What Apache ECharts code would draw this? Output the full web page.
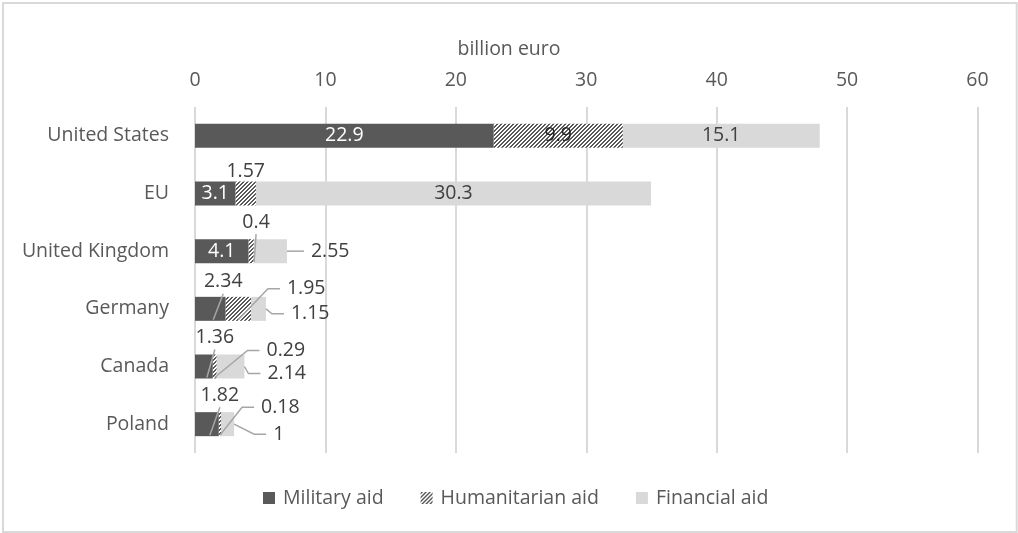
<!DOCTYPE html>
<html>
<head>
<meta charset="utf-8">
<title>Aid to Ukraine by donor</title>
<script src="https://cdn.jsdelivr.net/npm/echarts@6/dist/echarts.min.js"></script>
<style>
  html, body { margin: 0; padding: 0; background: #ffffff; }
  #chart { width: 1018px; height: 533px; }
</style>
</head>
<body>
<div id="chart"></div>
<script>
// ---- data -------------------------------------------------------------
const categories = ['United States', 'EU', 'United Kingdom', 'Germany', 'Canada', 'Poland'];
const militaryAid = [22.9, 3.1, 4.1, 2.34, 1.36, 1.82];
const humanitarianAid = [9.9, 1.57, 0.4, 1.95, 0.29, 0.18];
const financialAid = [15.1, 30.3, 2.55, 1.15, 2.14, 1];
const seriesNames = ['Military aid', 'Humanitarian aid', 'Financial aid'];
const axisMin = 0;
const axisMax = 60;
const axisStep = 10;
const axisTitle = 'billion euro';

// ---- label placement for narrow segments -----------------------------
// 'inside' keeps the value on the bar, 'above' lifts it over the segment,
// 'right' pushes it past the segment's end; offsets are in pixels.
const placement = {
  military: ['inside', 'inside', 'inside',
    { at: 'above', dx: 13, dy: -15 }, { at: 'above', dx: 11, dy: -17 }, { at: 'above', dx: 13, dy: -17 }],
  humanitarian: ['inside', { at: 'above', dx: 0, dy: -10, line: false }, { at: 'above', dx: 5, dy: -17 },
    { at: 'right', dx: 36, dy: -20 }, { at: 'right', dx: 50, dy: -16 }, { at: 'right', dx: 40, dy: -17 }],
  financial: ['inside', 'inside', { at: 'right', dx: 24, dy: 0 },
    { at: 'right', dx: 25, dy: 5 }, { at: 'right', dx: 23, dy: 7 }, { at: 'right', dx: 39, dy: 10 }]
};
const seriesKeys = ['military', 'humanitarian', 'financial'];
const leaderFrom = { military: 'bottom', humanitarian: 'bottom', financial: 'end' };

const FONT = '"Open Sans", "Noto Sans", sans-serif';
const FONT_SIZE = 19.5;
const TEXT = '#595959';
const LABEL_DARK = '#404040';
const GRID_LINE = '#d9d9d9';
const LEADER = '#a6a6a6';
const BAR_WIDTH = 24;

// Diagonal hatch used for the humanitarian segment.
function hatchPattern() {
  const s = 4;
  const c = document.createElement('canvas');
  c.width = s; c.height = s;
  const g = c.getContext('2d');
  g.fillStyle = '#ffffff';
  g.fillRect(0, 0, s, s);
  g.fillStyle = '#595959';
  for (let y = 0; y < s; y++) {
    for (let x = 0; x < s; x++) {
      if ((x + y) % s < 2) g.fillRect(x, y, 1, 1);
    }
  }
  return c;
}

// Where a moved label goes and how its leader line runs, given the segment rect.
function labelGeometry(r, pl, from) {
  if (pl.at === 'above') {
    const cx = r.x + r.width / 2 + pl.dx;
    const cy = r.y + pl.dy;
    return {
      x: cx, y: cy, align: 'center',
      points: pl.line === false ? null
        : [[r.x + r.width / 2 + 3, r.y + r.height - 1], [cx, cy + 12]]
    };
  }
  const lx = r.x + r.width + pl.dx;
  const cy = r.y + r.height / 2 + pl.dy;
  const start = from === 'bottom'
    ? [r.x + r.width / 2, r.y + r.height - 1]
    : [r.x + r.width, r.y + r.height / 2];
  return { x: lx, y: cy, align: 'left', points: [start, [lx - 19, cy], [lx - 7, cy]] };
}

function buildData(values, key, insideColor) {
  return values.map(function (v, i) {
    const moved = placement[key][i] !== 'inside';
    return { value: v, label: { color: moved ? LABEL_DARK : insideColor } };
  });
}

function makeLayout(key) {
  return function (p) {
    const pl = placement[key][p.dataIndex];
    if (!pl || pl === 'inside') return {};
    const g = labelGeometry(p.rect, pl, leaderFrom[key]);
    return { x: g.x, y: g.y, align: g.align, verticalAlign: 'middle' };
  };
}

function barSeries(name, values, key, color, insideColor, z) {
  return {
    name: name,
    type: 'bar',
    stack: 'aid',
    barWidth: BAR_WIDTH,
    z: z,
    data: buildData(values, key, insideColor),
    itemStyle: { color: color },
    label: {
      show: true,
      position: 'inside',
      fontFamily: FONT,
      fontSize: FONT_SIZE,
      formatter: function (p) { return String(p.value); }
    },
    labelLayout: makeLayout(key),
    emphasis: { disabled: true }
  };
}

const border = {
  id: 'frame',
  type: 'rect',
  shape: { x: 3, y: 3, width: 1013.7, height: 529 },
  style: { fill: 'none', stroke: GRID_LINE, lineWidth: 2 },
  silent: true
};

const chart = echarts.init(document.getElementById('chart'), null, { renderer: 'canvas' });

chart.setOption({
  animation: false,
  backgroundColor: '#ffffff',
  title: {
    text: axisTitle,
    left: 'center',
    top: 34,
    textStyle: { color: TEXT, fontSize: FONT_SIZE, fontWeight: 'normal', fontFamily: FONT }
  },
  graphic: [border],
  legend: {
    data: seriesNames,
    top: 488,
    left: 263,
    padding: 0,
    icon: 'rect',
    itemWidth: 12,
    itemHeight: 12,
    itemGap: 37,
    selectedMode: false,
    textStyle: { color: TEXT, fontSize: FONT_SIZE, fontFamily: FONT, padding: [0, 0, 0, 3] }
  },
  grid: { left: 195, right: 40.5, top: 107, bottom: 80, containLabel: false, outerBoundsMode: 'none' },
  xAxis: {
    type: 'value',
    position: 'top',
    min: axisMin,
    max: axisMax,
    interval: axisStep,
    axisLine: { show: false },
    axisTick: { show: false },
    axisLabel: { color: TEXT, fontSize: FONT_SIZE, fontFamily: FONT, margin: 17 },
    splitLine: { show: true, lineStyle: { color: GRID_LINE, width: 2 } }
  },
  yAxis: {
    type: 'category',
    data: categories,
    inverse: true,
    axisLine: { show: false },
    axisTick: { show: false },
    axisLabel: { color: TEXT, fontSize: FONT_SIZE, fontFamily: FONT, margin: 26 }
  },
  series: [
    barSeries(seriesNames[0], militaryAid, 'military', '#595959', '#ffffff', 5),
    barSeries(seriesNames[1], humanitarianAid, 'humanitarian',
      { image: hatchPattern(), repeat: 'repeat' }, '#262626', 4),
    barSeries(seriesNames[2], financialAid, 'financial', '#d9d9d9', LABEL_DARK, 3)
  ]
});

// Leader lines for the moved labels, placed through the chart's own scales.
function leaderLines() {
  const stacks = [militaryAid, humanitarianAid, financialAid];
  const out = [];
  categories.forEach(function (cat, i) {
    let acc = 0;
    const yc = chart.convertToPixel({ yAxisIndex: 0 }, cat);
    seriesKeys.forEach(function (key, s) {
      const v = stacks[s][i];
      const x0 = chart.convertToPixel({ xAxisIndex: 0 }, acc);
      const x1 = chart.convertToPixel({ xAxisIndex: 0 }, acc + v);
      acc += v;
      const pl = placement[key][i];
      if (pl === 'inside') return;
      const r = { x: x0, y: yc - BAR_WIDTH / 2, width: x1 - x0, height: BAR_WIDTH };
      const g = labelGeometry(r, pl, leaderFrom[key]);
      if (!g.points) return;
      out.push({
        id: 'leader-' + key + '-' + i,
        type: 'polyline',
        z: 20,
        silent: true,
        shape: { points: g.points },
        style: { fill: null, stroke: LEADER, lineWidth: 1.5 }
      });
    });
  });
  return out;
}

chart.setOption({ graphic: [border].concat(leaderLines()) });
</script>
</body>
</html>
